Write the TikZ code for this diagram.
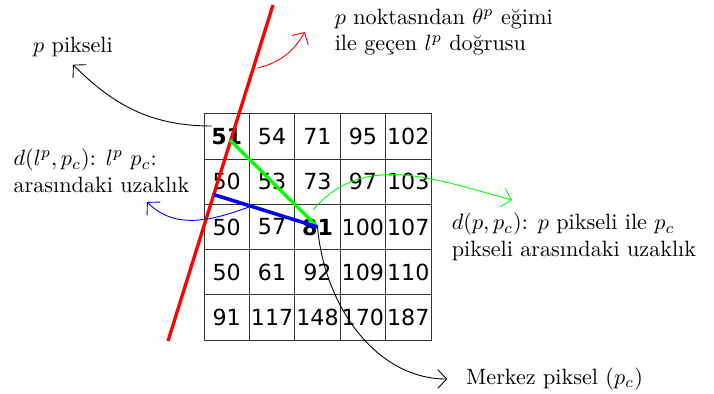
\documentclass[tikz,border=0pt]{standalone}
\usepackage{fontspec}
\newfontfamily\cellfont{DejaVu Sans}
\usetikzlibrary{calc,arrows.meta}

\tikzset{%
  every cell/.style={
    draw=black!80,
    minimum size=0.7196cm,
    inner sep=0pt,
    font=\cellfont
  },
  center cell/.style={
    every cell,
    font=\cellfont\bfseries
  },
  every caption/.style={
    align=left
  },
}

\begin{document}
\begin{tikzpicture}[x=0.01585cm, y=0.01585cm, >={Straight Barb[length=4pt,width=8.5pt]}]
  \useasboundingbox (0,0) rectangle (714,-394);
  % 5x5 pixel window
  \node [center cell] (c-1-1) at (226.7,-136.6) {51};
  \node [every cell] (c-1-2) at (272.1,-136.6) {54};
  \node [every cell] (c-1-3) at (317.5,-136.6) {71};
  \node [every cell] (c-1-4) at (362.9,-136.6) {95};
  \node [every cell] (c-1-5) at (408.3,-136.6) {102};
  \node [every cell] (c-2-1) at (226.7,-181.8) {50};
  \node [every cell] (c-2-2) at (272.1,-181.8) {53};
  \node [every cell] (c-2-3) at (317.5,-181.8) {73};
  \node [every cell] (c-2-4) at (362.9,-181.8) {97};
  \node [every cell] (c-2-5) at (408.3,-181.8) {103};
  \node [every cell] (c-3-1) at (226.7,-227) {50};
  \node [every cell] (c-3-2) at (272.1,-227) {57};
  \node [center cell] (c-3-3) at (317.5,-227) {81};
  \node [every cell] (c-3-4) at (362.9,-227) {100};
  \node [every cell] (c-3-5) at (408.3,-227) {107};
  \node [every cell] (c-4-1) at (226.7,-272.2) {50};
  \node [every cell] (c-4-2) at (272.1,-272.2) {61};
  \node [every cell] (c-4-3) at (317.5,-272.2) {92};
  \node [every cell] (c-4-4) at (362.9,-272.2) {109};
  \node [every cell] (c-4-5) at (408.3,-272.2) {110};
  \node [every cell] (c-5-1) at (226.7,-317.4) {91};
  \node [every cell] (c-5-2) at (272.1,-317.4) {117};
  \node [every cell] (c-5-3) at (317.5,-317.4) {148};
  \node [every cell] (c-5-4) at (362.9,-317.4) {170};
  \node [every cell] (c-5-5) at (408.3,-317.4) {187};
  % captions
  \node [every caption, anchor=west] (linecap) at (327,-32) {$p$ noktasndan $\theta^p$ eğimi\\ile geçen $l^p$ doğrusu};
  \node (pcap) at (73,-47) {$p$ pikseli};
  \node [every caption] (dlcap) at (101.5,-171) {$d(l^p, p_c)$: $l^p$ $p_c$:\\arasındaki uzaklık};
  \node [every caption] (dpcap) at (574,-237) {$d(p,p_c)$: $p$ pikseli ile $p_c$\\pikseli arasındaki uzaklık};
  \node (mcap) at (554.5,-379) {Merkez piksel ($p_c$)};
  % line l^p and distances
  \coordinate (lt) at (273,-5);
  \coordinate (lb) at (168,-341);
  \coordinate (p) at (230,-140);
  \coordinate (pc) at (c-3-3.center);
  \coordinate (foot) at ($(lt)!(pc)!(lb)$);
  \draw [draw=red, line width=1.5pt] (lt) -- (lb);
  \draw [draw=green, line width=1.5pt] (p) -- (pc);
  \draw [draw=blue, line width=1.6pt] (foot) -- (pc);
  % arrow ends
  \coordinate (red-s) at (258,-68);
  \coordinate (p-s) at (212,-126);
  \coordinate (blue-s) at (249,-207);
  \coordinate (blue-e) at (147,-202);
  \coordinate (green-s) at (313,-210);
  \coordinate (green-e) at (512,-200);
\draw [->, draw = red] (red-s) to[out=15,in=240] ([xshift=-10]linecap.west);
\draw [->] (p-s) to[out=180,in=-45] (pcap.south) ;
\draw [->, draw = blue] (blue-s) to[out=200,in=-45] (blue-e);
\draw [->, draw = green] (green-s) to[out=50,in=165] (green-e);
\draw [->, shorten >=5pt] (pc) to[out=-85,in=180] (mcap.west);
\end{tikzpicture}
\end{document}
